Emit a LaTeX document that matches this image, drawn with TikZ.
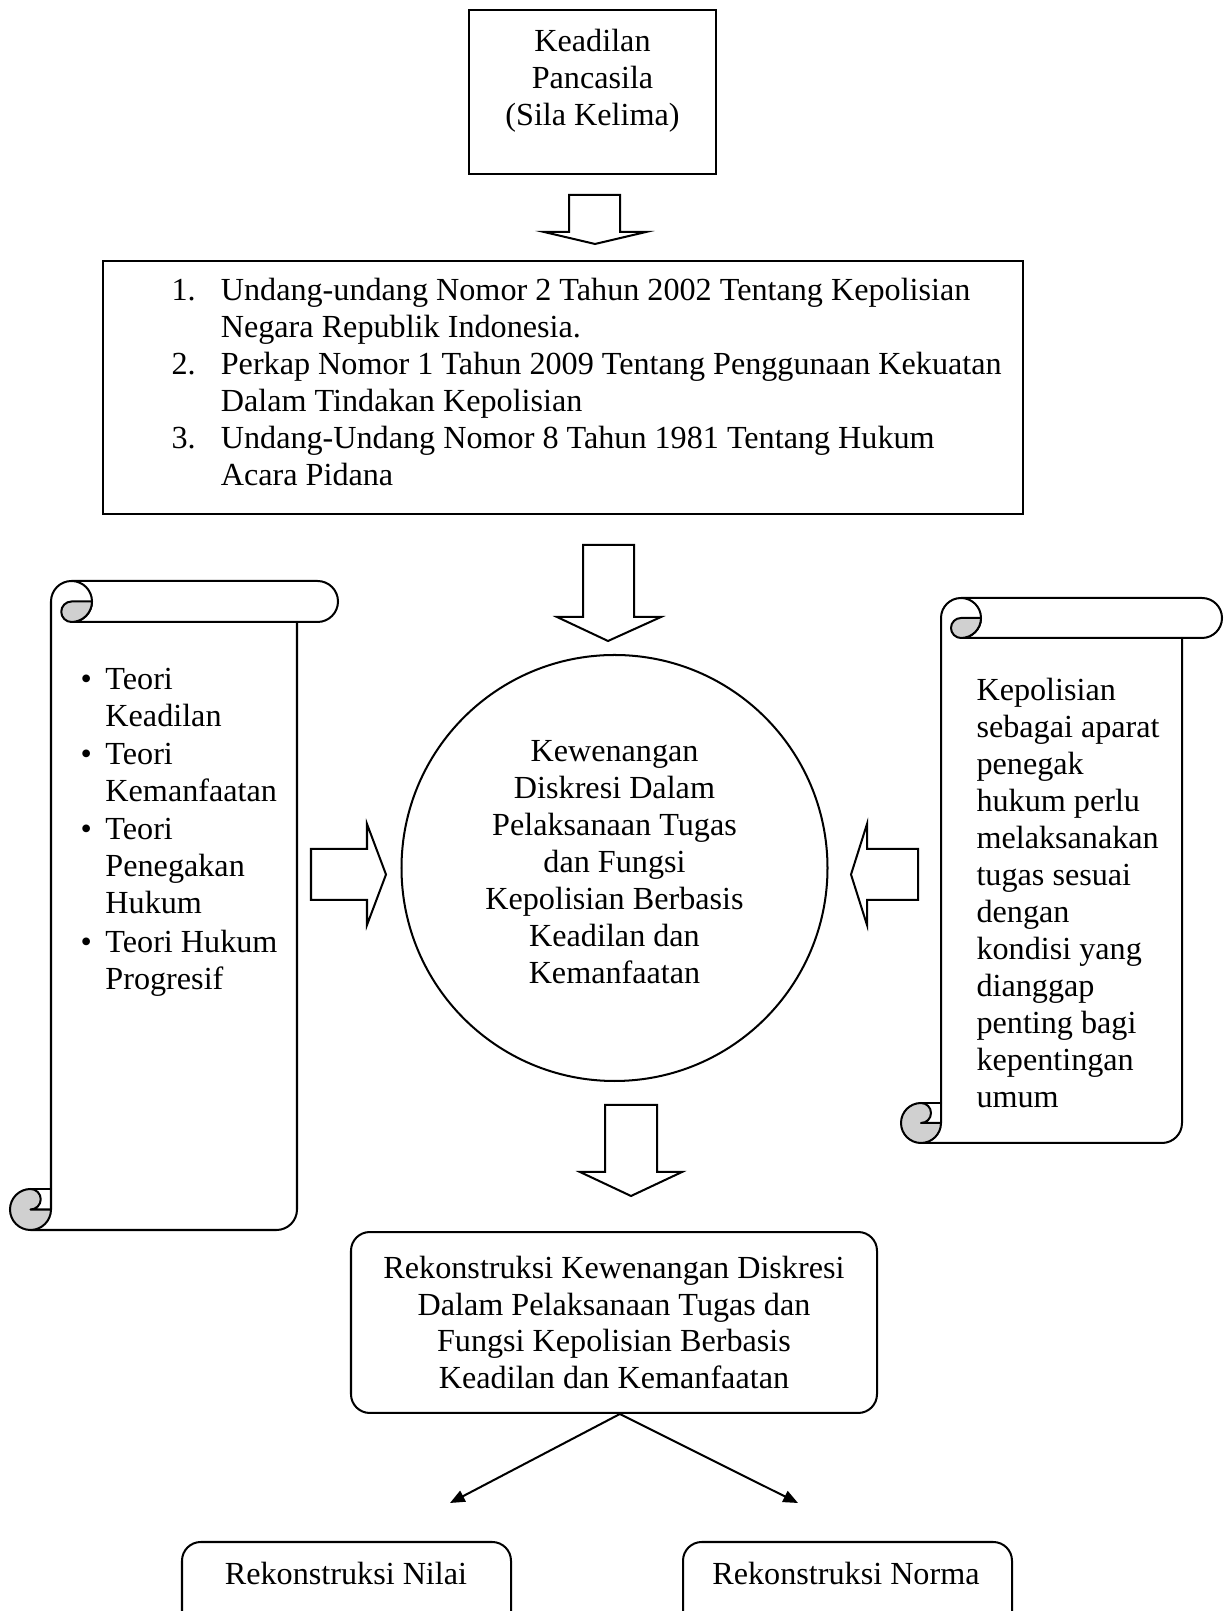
\documentclass[tikz,border=0pt]{standalone}
\usepackage{fontspec}
\setmainfont{Liberation Serif}
\usetikzlibrary{arrows.meta}
\definecolor{curlgray}{RGB}{208,208,208}

% scroll: left, bottom, right, top, roll radius
\newcommand{\scrollbox}[5]{%
  \draw[scrollline] ({#1+2*#5},{#2+#5}) -- ({#1+2*#5},{#4-#5}) arc[start angle=180,end angle=90,radius=#5]
    -- ({#3-#5},#4) arc[start angle=90,end angle=-90,radius=#5]
    -- ({#1+3*#5},{#4-2*#5}) arc[start angle=-90,end angle=90,radius=#5];
  \draw[scrollline] ({#3-2*#5},{#4-2*#5}) -- ({#3-2*#5},{#2+#5}) arc[start angle=0,end angle=-90,radius=#5] -- ({#1+#5},#2);
  % top curl
  \draw[scrollline,fill=curlgray] ({#1+3*#5},{#4-#5}) -- ({#1+4*#5},{#4-#5}) arc[start angle=0,end angle=-90,radius=#5]
    arc[start angle=270,end angle=90,radius=#5/2] -- cycle;
  % bottom curl
  \draw[scrollline,fill=curlgray] ({#1+#5},{#2+2*#5}) arc[start angle=90,end angle=360,radius=#5] -- ({#1+#5},{#2+#5})
    arc[start angle=-90,end angle=90,radius=#5/2] -- cycle;
  \draw[scrollline] ({#1+#5},{#2+2*#5}) -- ({#1+2*#5},{#2+2*#5});
}

\begin{document}
\begin{tikzpicture}[x=0.373pt, y=0.373pt, line cap=round,
    every node/.style={font=\fontsize{12}{13.8}\selectfont},
    outline/.style={draw=black, line width=0.75pt},
    blockarrow/.style={outline, fill=white, line join=miter},
    scrollline/.style={outline, line join=round},
    txt/.style={inner sep=0pt, align=left},
    roundbox/.style={outline, rounded corners=7pt},
    pointer/.style={line width=0.75pt, -{Triangle[length=5.5pt,width=4.5pt]}}]
  \useasboundingbox (0,0) rectangle (1229,1611);
  \clip (0,0) rectangle (1229,1611);

  % Keadilan Pancasila
  \draw[outline] (469,1437) rectangle (716,1601);
  \node[txt, align=center] (sila) at (592.5,1530) {Keadilan\\Pancasila\\(Sila Kelima)};
  \draw[blockarrow] (569,1416) -- (620,1416) -- (620,1379) -- (646,1379) -- (595,1367) -- (544,1379) -- (569,1379) -- cycle;

  % dasar hukum
  \draw[outline] (103,1097) rectangle (1023,1350);
  \node[txt, anchor=west] (uu) at (171,1229) {%
    \makebox[18.4pt][l]{1.}Undang-undang Nomor 2 Tahun 2002 Tentang Kepolisian\\
    \makebox[18.4pt]{}Negara Republik Indonesia.\\
    \makebox[18.4pt][l]{2.}Perkap Nomor 1 Tahun 2009 Tentang Penggunaan Kekuatan\\
    \makebox[18.4pt]{}Dalam Tindakan Kepolisian\\
    \makebox[18.4pt][l]{3.}Undang-Undang Nomor 8 Tahun 1981 Tentang Hukum\\
    \makebox[18.4pt]{}Acara Pidana};
  \draw[blockarrow] (583,1066) -- (634,1066) -- (634,994) -- (661,994) -- (608,970) -- (557,994) -- (583,994) -- cycle;

  % teori (left scroll)
  \scrollbox{10}{381}{338}{1030}{20.5}
  \node[txt, anchor=west] (teori) at (80,779) {%
    \makebox[9.3pt][l]{\textbullet}Teori\\ \makebox[9.3pt]{}Keadilan\\[0.5pt]
    \makebox[9.3pt][l]{\textbullet}Teori\\ \makebox[9.3pt]{}Kemanfaatan\\[0.5pt]
    \makebox[9.3pt][l]{\textbullet}Teori\\ \makebox[9.3pt]{}Penegakan\\ \makebox[9.3pt]{}Hukum\\[0.5pt]
    \makebox[9.3pt][l]{\textbullet}Teori Hukum\\ \makebox[9.3pt]{}Progresif};

  % kondisi (right scroll)
  \scrollbox{901}{468}{1222}{1013}{20}
  \node[txt, anchor=west] (polisi) at (976,718) {Kepolisian\\sebagai aparat\\penegak\\hukum perlu\\melaksanakan\\tugas sesuai\\dengan\\kondisi yang\\dianggap\\penting bagi\\kepentingan\\umum};

  % kewenangan diskresi
  \node[outline, circle, minimum size=158.9pt, inner sep=0pt, align=center] (diskresi) at (614.5,743)
    {Kewenangan\\Diskresi Dalam\\Pelaksanaan Tugas\\dan Fungsi\\Kepolisian Berbasis\\Keadilan dan\\Kemanfaatan\rule[-4.5pt]{0pt}{0pt}};
  \draw[blockarrow] (311,762) -- (367,762) -- (367,787) -- (386,736.5) -- (367,686) -- (367,711) -- (311,711) -- cycle;
  \draw[blockarrow] (918,762) -- (867,762) -- (867,787) -- (851,736.5) -- (867,686) -- (867,711) -- (918,711) -- cycle;
  \draw[blockarrow] (605,506) -- (657,506) -- (657,439) -- (682,439) -- (631,415) -- (580,439) -- (605,439) -- cycle;

  % rekonstruksi
  \node[roundbox, minimum width=196.2pt, minimum height=67.5pt, align=center] (rekon) at (614,288.5)
    {Rekonstruksi Kewenangan Diskresi\\Dalam Pelaksanaan Tugas dan\\Fungsi Kepolisian Berbasis\\Keadilan dan Kemanfaatan};
  \coordinate (split) at ([xshift=2.2pt]rekon.south);
  \coordinate (tonilai) at (450,108);
  \coordinate (tonorma) at (798,108);
  \draw[pointer] (split) -- (tonilai);
  \draw[pointer] (split) -- (tonorma);

  \draw[roundbox] (182,69) rectangle (511,-40);
  \node[txt] (nilai) at (346,38) {Rekonstruksi Nilai};
  \draw[roundbox] (683,69) rectangle (1012,-40);
  \node[txt] (norma) at (846,38) {Rekonstruksi Norma};
\end{tikzpicture}
\end{document}
